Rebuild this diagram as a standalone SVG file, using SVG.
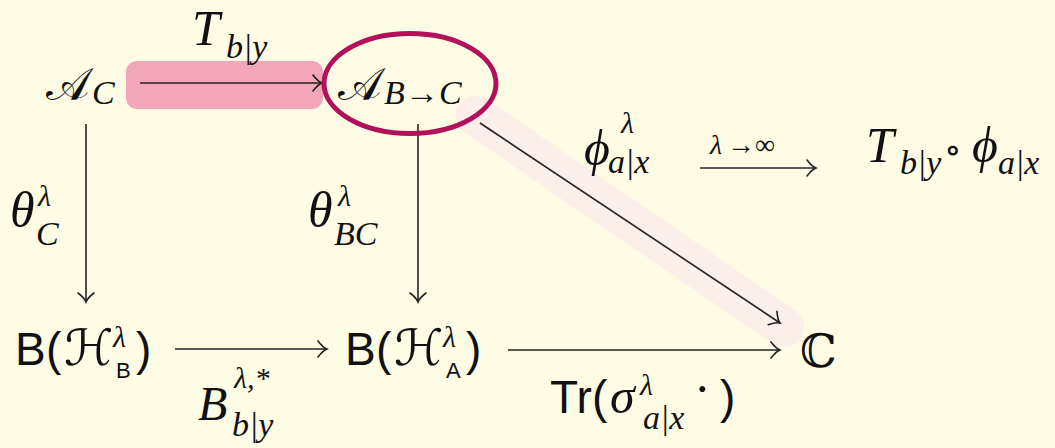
<svg xmlns="http://www.w3.org/2000/svg" width="1055" height="448" viewBox="0 0 1055 448">
<defs>
<style>
.m{font-family:"Liberation Serif","DejaVu Serif",serif;font-style:italic;fill:#111}
.r{font-family:"Liberation Serif","DejaVu Serif",serif;fill:#111}
.s{font-family:"Liberation Sans","DejaVu Sans",sans-serif;fill:#111}
.sc{font-family:"DejaVu Serif","DejaVu Sans","Noto Sans",serif;fill:#111}
.big{font-size:50px}
.sub{font-size:34px}
.ln{stroke:#222;stroke-width:1.6;fill:none}
</style>
<marker id="ah" viewBox="-12 -9 14 18" markerWidth="14" markerHeight="18" refX="0" refY="0" orient="auto" markerUnits="userSpaceOnUse">
<path d="M-9,-8 Q-4,-1.5 0,0 Q-4,1.5 -9,8" fill="none" stroke="#222" stroke-width="1.6" stroke-linecap="round"/>
</marker>
</defs>
<rect width="1055" height="448" fill="#FEFCE5"/>
<g id="highlights">
<rect x="126" y="61" width="197" height="48" rx="11" fill="#F2A7B8"/>
<line x1="476" y1="116" x2="784" y2="327" stroke="#FCEEE8" stroke-width="40" stroke-linecap="round"/>
</g>
<g id="connectors">
<line class="ln" x1="140" y1="83" x2="322" y2="83" marker-end="url(#ah)"/>
<line class="ln" x1="86" y1="124" x2="86" y2="302" marker-end="url(#ah)"/>
<line class="ln" x1="418" y1="124" x2="418" y2="302" marker-end="url(#ah)"/>
<line class="ln" x1="480" y1="123" x2="780" y2="323" marker-end="url(#ah)"/>
<line class="ln" x1="175" y1="349" x2="327" y2="349" marker-end="url(#ah)"/>
<line class="ln" x1="508" y1="350" x2="780" y2="350" marker-end="url(#ah)"/>
<line class="ln" x1="700" y1="168" x2="816" y2="168" marker-end="url(#ah)"/>
</g>
<g id="node-AC">
<text class="sc" font-size="46" x="46" y="100">𝒜</text>
<text class="m sub" x="92" y="104">C</text>
</g>
<g id="node-ABC">
<ellipse cx="410" cy="83.5" rx="86" ry="50" fill="none" stroke="#B2105B" stroke-width="5"/>
<text class="sc" font-size="46" x="338" y="100">𝒜</text>
<text class="m sub" x="384" y="104">B</text>
<text class="r sub" x="405" y="104">→</text>
<text class="m sub" x="439" y="104">C</text>
</g>
<g id="node-BHB">
<text class="s" font-size="46" x="15" y="365">B</text>
<text class="s" font-size="46" x="46" y="365">(</text>
<text class="sc" font-size="50" x="64" y="365">ℋ</text>
<text class="m" font-size="30" x="113" y="347">λ</text>
<text class="s" font-size="22" x="116" y="378">B</text>
<text class="s" font-size="46" x="136" y="365">)</text>
</g>
<g id="node-BHA">
<text class="s" font-size="46" x="345" y="365">B</text>
<text class="s" font-size="46" x="376" y="365">(</text>
<text class="sc" font-size="50" x="394" y="365">ℋ</text>
<text class="m" font-size="30" x="443" y="347">λ</text>
<text class="s" font-size="22" x="446" y="378">A</text>
<text class="s" font-size="46" x="466" y="365">)</text>
</g>
<g id="node-C">
<text class="sc" font-size="46" x="800" y="367">ℂ</text>
</g>
<g id="labels">
<text class="m big" x="192" y="45">T</text>
<text class="m sub" x="226" y="58">b|y</text>
<text class="m big" x="10" y="227">θ</text>
<text class="m" font-size="30" x="38" y="206">λ</text>
<text class="m sub" x="36" y="245">C</text>
<text class="m big" x="308" y="227">θ</text>
<text class="m" font-size="30" x="338" y="206">λ</text>
<text class="m sub" x="334" y="245">BC</text>
<text class="m big" x="584" y="165">ϕ</text>
<text class="m" font-size="30" x="621" y="133">λ</text>
<text class="m sub" x="608" y="173">a|x</text>
<text class="m" font-size="28" x="710" y="154">λ</text>
<text class="r" font-size="28" x="727" y="154">→∞</text>
<text class="m big" x="866" y="162">T</text>
<text class="m sub" x="900" y="174">b|y</text>
<text class="r" font-size="36" x="944" y="162">∘</text>
<text class="m big" x="972" y="162">ϕ</text>
<text class="m sub" x="998" y="174">a|x</text>
<text class="m" font-size="48" x="198" y="420">B</text>
<text class="m" font-size="30" x="234" y="388">λ,*</text>
<text class="m sub" x="232" y="436">b|y</text>
<text class="s" font-size="46" x="550" y="413">Tr</text>
<text class="s" font-size="46" x="592" y="413">(</text>
<text class="m big" x="610" y="413">σ</text>
<text class="m" font-size="30" x="640" y="395">λ</text>
<text class="m sub" x="643" y="429">a|x</text>
<text class="r big" x="694" y="406">·</text>
<text class="s" font-size="46" x="720" y="413">)</text>
</g>
</svg>
